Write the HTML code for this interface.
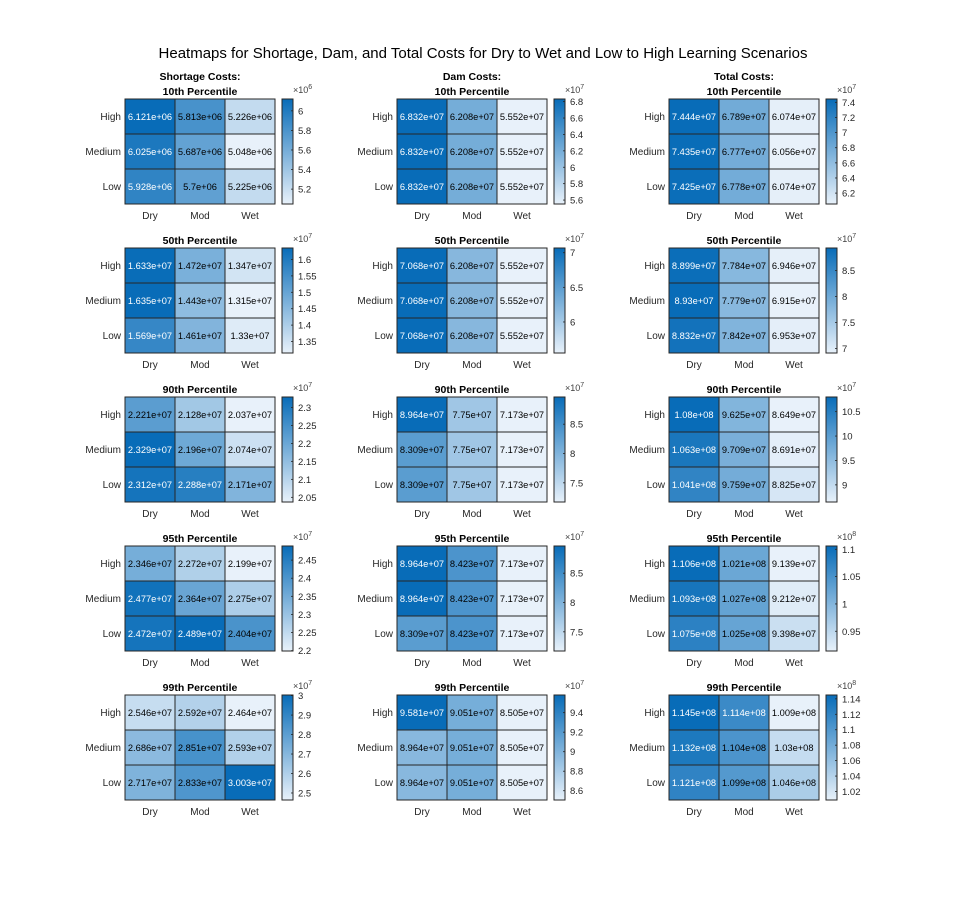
<!DOCTYPE html>
<html><head><meta charset="utf-8"><style>
body{margin:0;background:#fff;}
svg{display:block;font-family:"Liberation Sans",Arial,sans-serif;}
</style></head><body>
<svg id="chart" width="966" height="897"></svg>
<script>
const categoriesX = ["Dry","Mod","Wet"];
const categoriesY = ["High","Medium","Low"];
const groupNames = ["Shortage Costs:","Dam Costs:","Total Costs:"];
const percentileNames = ["10th Percentile","50th Percentile","90th Percentile","95th Percentile","99th Percentile"];
const shortageValues = [
 [[6.121e6,5.813e6,5.226e6],[6.025e6,5.687e6,5.048e6],[5.928e6,5.7e6,5.225e6]],
 [[1.633e7,1.472e7,1.347e7],[1.635e7,1.443e7,1.315e7],[1.569e7,1.461e7,1.33e7]],
 [[2.221e7,2.128e7,2.037e7],[2.329e7,2.196e7,2.074e7],[2.312e7,2.288e7,2.171e7]],
 [[2.346e7,2.272e7,2.199e7],[2.477e7,2.364e7,2.275e7],[2.472e7,2.489e7,2.404e7]],
 [[2.546e7,2.592e7,2.464e7],[2.686e7,2.851e7,2.593e7],[2.717e7,2.833e7,3.003e7]]
];
const damValues = [
 [[6.832e7,6.208e7,5.552e7],[6.832e7,6.208e7,5.552e7],[6.832e7,6.208e7,5.552e7]],
 [[7.068e7,6.208e7,5.552e7],[7.068e7,6.208e7,5.552e7],[7.068e7,6.208e7,5.552e7]],
 [[8.964e7,7.75e7,7.173e7],[8.309e7,7.75e7,7.173e7],[8.309e7,7.75e7,7.173e7]],
 [[8.964e7,8.423e7,7.173e7],[8.964e7,8.423e7,7.173e7],[8.309e7,8.423e7,7.173e7]],
 [[9.581e7,9.051e7,8.505e7],[8.964e7,9.051e7,8.505e7],[8.964e7,9.051e7,8.505e7]]
];
const totalValues = [
 [[7.444e7,6.789e7,6.074e7],[7.435e7,6.777e7,6.056e7],[7.425e7,6.778e7,6.074e7]],
 [[8.899e7,7.784e7,6.946e7],[8.93e7,7.779e7,6.915e7],[8.832e7,7.842e7,6.953e7]],
 [[1.08e8,9.625e7,8.649e7],[1.063e8,9.709e7,8.691e7],[1.041e8,9.759e7,8.825e7]],
 [[1.106e8,1.021e8,9.139e7],[1.093e8,1.027e8,9.212e7],[1.075e8,1.025e8,9.398e7]],
 [[1.145e8,1.114e8,1.009e8],[1.132e8,1.104e8,1.03e8],[1.121e8,1.099e8,1.046e8]]
];
const shortageTicks = [[5.2,5.4,5.6,5.8,6],[1.35,1.4,1.45,1.5,1.55,1.6],[2.05,2.1,2.15,2.2,2.25,2.3],[2.2,2.25,2.3,2.35,2.4,2.45],[2.5,2.6,2.7,2.8,2.9,3]];
const damTicks = [[5.6,5.8,6,6.2,6.4,6.6,6.8],[6,6.5,7],[7.5,8,8.5],[7.5,8,8.5],[8.6,8.8,9,9.2,9.4]];
const totalTicks = [[6.2,6.4,6.6,6.8,7,7.2,7.4],[7,7.5,8,8.5],[9,9.5,10,10.5],[0.95,1,1.05,1.1],[1.02,1.04,1.06,1.08,1.1,1.12,1.14]];
const shortageExp = [6,7,7,7,7];
const damExp = [7,7,7,7,7];
const totalExp = [7,7,7,8,8];

const NS="http://www.w3.org/2000/svg";
const svg=document.getElementById('chart');
function mk(tag,attrs,parent,text){const e=document.createElementNS(NS,tag);for(const k in attrs)e.setAttribute(k,attrs[k]);if(text!==undefined)e.textContent=text;(parent||svg).appendChild(e);return e;}
const lo=[232,241,250],hi=[8,108,184];
function color(t){const c=lo.map((l,i)=>Math.round(l+(hi[i]-l)*t));return `rgb(${c[0]},${c[1]},${c[2]})`;}
function fmt(v){let s=v.toExponential(3);let [m,e]=s.split('e');if(m.indexOf('.')>=0)m=m.replace(/0+$/,'').replace(/\.$/,'');let n=parseInt(e);return m+'e'+(n<0?'-':'+')+(Math.abs(n)<10?'0':'')+Math.abs(n);}

const t=mk('text',{x:483,y:58,'text-anchor':'middle','font-size':15,fill:'#000'},svg,'Heatmaps for Shortage, Dam, and Total Costs for Dry to Wet and Low to High Learning Scenarios');


const groups=[[shortageValues,shortageTicks,shortageExp],[damValues,damTicks,damExp],[totalValues,totalTicks,totalExp]];
const gNames=['shortage','dam','total'];
const cellW=50,cellH=35;
groups.forEach((grp,gi)=>{
 const [vals,ticks,exps]=grp;
 vals.forEach((mat,pi)=>{
  const x0=125+gi*272,y0=99+pi*149;
  const g=mk('g',{});
  
  
  const flat=mat.flat();const mn=Math.min(...flat),mx=Math.max(...flat);
  const norm=v=>(mx===mn?0:(v-mn)/(mx-mn));
  if(pi===0){
   const a=mk('text',{x:x0+75,y:y0-19,'text-anchor':'middle','font-size':10.5,'font-weight':'bold'},g,groupNames[gi]);
   
  }
  const tt=mk('text',{x:x0+75,y:y0-4,'text-anchor':'middle','font-size':10.5,'font-weight':'bold'},g,percentileNames[pi]);
  
  mat.forEach((row,ri)=>row.forEach((v,ci)=>{
   const r=mk('rect',{x:x0+ci*cellW,y:y0+ri*cellH,width:cellW,height:cellH,fill:color(norm(v)),stroke:'#262626','stroke-width':1},g);
   
   const tx=mk('text',{x:x0+ci*cellW+cellW/2,y:y0+ri*cellH+cellH/2+3.5,'text-anchor':'middle','font-size':9.3,fill:norm(v)>0.75?'#fff':'#000'},g,fmt(v));
   
  }));
  mk('rect',{x:x0,y:y0,width:150,height:105,fill:'none',stroke:'#262626','stroke-width':1},g);
  categoriesY.forEach((c,ri)=>{const e=mk('text',{x:x0-4,y:y0+ri*cellH+cellH/2+3.5,'text-anchor':'end','font-size':10,fill:'#262626'},g,c);
   });
  categoriesX.forEach((c,ci)=>{const e=mk('text',{x:x0+ci*cellW+cellW/2,y:y0+120,'text-anchor':'middle','font-size':10,fill:'#262626'},g,c);
   });
  const cx=x0+157,cw=11,sc=Math.pow(10,exps[pi]);
  const gid='grad'+gi+'_'+pi;
  const defs=mk('defs',{},g);const lg=mk('linearGradient',{id:gid,x1:0,y1:1,x2:0,y2:0},defs);
  mk('stop',{offset:0,'stop-color':color(0)},lg);mk('stop',{offset:1,'stop-color':color(1)},lg);
  const cb=mk('rect',{x:cx,y:y0,width:cw,height:105,fill:`url(#${gid})`,stroke:'#262626','stroke-width':1},g);
  
  const yOf=v=>y0+105-norm(v)*105;
  ticks[pi].forEach(tv=>{const yy=yOf(tv*sc);
   mk('line',{x1:cx+cw-2,x2:cx+cw,y1:yy,y2:yy,stroke:'#262626','stroke-width':0.8},g);
   const e=mk('text',{x:cx+cw+5,y:yy+3.5,'font-size':9.5,fill:'#262626'},g,String(tv));
   });
  const ex=mk('text',{x:cx+cw,y:y0-6,'font-size':9,fill:'#404040'},g);
  
  mk('tspan',{},ex,'×10');mk('tspan',{'font-size':7,dy:-4},ex,String(exps[pi]));
 });
});
</script>
</body></html>
